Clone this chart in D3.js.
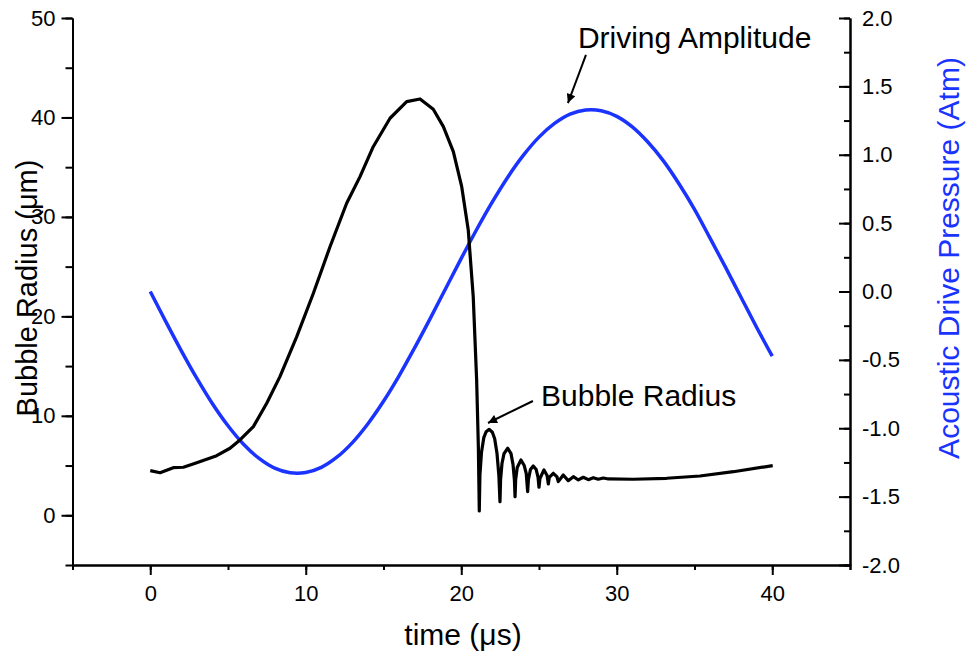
<!DOCTYPE html>
<html>
<head>
<meta charset="utf-8">
<script src="https://cdn.jsdelivr.net/npm/d3@7"></script>
<style>
	body { margin: 0; background: #fff; }
	svg text { font-family: Arial, "Liberation Sans", sans-serif; }
</style>
</head>
<body>
<div id="chart"></div>
<script>
// bubble radius (um) vs time (us)
var bubbleT = [0, 0.63, 1.48, 2.13, 2.99, 4.27, 5.13, 5.77, 6.63, 7.49, 8.34, 9.42, 10.49, 11.56, 12.63, 13.49, 14.34, 15.42, 16.49, 17.35, 18.2, 18.85, 19.49, 20.03, 20.45, 20.77, 20.99, 21.1, 21.16,
	21.2, 21.3, 21.45, 21.6, 21.8, 22.0, 22.15, 22.3, 22.42, 22.49,
	22.53, 22.62, 22.75, 22.99, 23.2, 23.33, 23.42, 23.46,
	23.5, 23.6, 23.84, 24.05, 24.18, 24.27,
	24.32, 24.45, 24.63, 24.82, 24.94, 25.0,
	25.06, 25.32, 25.52, 25.6,
	25.66, 25.92, 26.16, 26.24,
	26.56, 26.88, 27.21, 27.53, 27.85, 28.17, 28.49, 28.81, 29.14, 29.46,
	31.06, 33.21, 35.35, 37.5, 40.03];
var bubbleR = [4.49, 4.28, 4.79, 4.83, 5.29, 5.99, 6.74, 7.57, 8.91, 11.26, 13.94, 17.96, 22.32, 27.0, 31.37, 34.05, 37.06, 39.92, 41.59, 41.86, 40.83, 39.08, 36.56, 33.04, 28.69, 21.98, 13.6, 6.9, 0.43,
	4.0, 6.3, 7.8, 8.4, 8.64, 8.35, 7.7, 6.2, 4.0, 1.37,
	3.6, 5.2, 6.2, 6.74, 6.2, 5.1, 3.5, 1.87,
	3.6, 4.8, 5.56, 5.0, 4.2, 2.37,
	3.6, 4.6, 4.96, 4.6, 3.8, 2.82,
	3.7, 4.56, 4.0, 3.15,
	3.8, 4.22, 3.85, 3.38,
	4.05, 3.48, 3.88, 3.55, 3.82, 3.58, 3.78, 3.62, 3.75, 3.65,
	3.62, 3.72, 3.95, 4.38, 4.99];

// acoustic drive pressure (Atm) vs time (us)
var driveT = d3.range(0, 41);
var driveP = [0, -0.22, -0.434, -0.636, -0.821, -0.982, -1.117, -1.221, -1.292, -1.326, -1.324, -1.286, -1.212, -1.105, -0.967, -0.803, -0.617, -0.412, -0.198, 0.022, 0.242, 0.455, 0.655, 0.838, 0.997, 1.129, 1.229, 1.297, 1.327, 1.322, 1.281, 1.204, 1.093, 0.955, 0.788, 0.601, 0.39, 0.176, -0.044, -0.263, -0.473];

var xTicks = [0, 10, 20, 30, 40];
var yLeftTicks = [0, 10, 20, 30, 40, 50];
var yRightTicks = [-2.0, -1.5, -1.0, -0.5, 0.0, 0.5, 1.0, 1.5, 2.0];

var width = 967, height = 654;
var blue = "#1a33ff";

var svg = d3.select("#chart").append("svg")
	.attr("width", width)
	.attr("height", height);

var x = d3.scaleLinear().domain([-5, 45]).range([72.5, 850]);
var yL = d3.scaleLinear().domain([-5, 50]).range([565, 18]);
var yR = d3.scaleLinear().domain([-2, 2]).range([565, 18]);

// axes with minor ticks
function styleAxis(g) {
	g.select(".domain").attr("stroke-width", 2);
	g.selectAll(".tick line").attr("stroke-width", 2);
	g.selectAll("text").attr("font-size", "22px").attr("fill", "#000");
}

svg.append("g")
	.attr("transform", `translate(0,${yL(-5)})`)
	.call(d3.axisBottom(x).tickValues(d3.range(-5, 46, 5)).tickSize(5).tickFormat(""))
	.call(styleAxis);
svg.append("g")
	.attr("transform", `translate(0,${yL(-5)})`)
	.call(d3.axisBottom(x).tickValues(xTicks).tickSize(10).tickPadding(10).tickSizeOuter(0))
	.call(styleAxis);

svg.append("g")
	.attr("transform", `translate(${x(-5)},0)`)
	.call(d3.axisLeft(yL).tickValues(d3.range(-5, 51, 5)).tickSize(7).tickFormat("").tickSizeOuter(0))
	.call(styleAxis);
svg.append("g")
	.attr("transform", `translate(${x(-5)},0)`)
	.call(d3.axisLeft(yL).tickValues(yLeftTicks).tickSize(11).tickPadding(6).tickSizeOuter(0))
	.call(styleAxis);

svg.append("g")
	.attr("transform", `translate(${x(45)},0)`)
	.call(d3.axisRight(yR).tickValues(d3.range(-2, 2.01, 0.25)).tickSize(-6).tickFormat("").tickSizeOuter(0))
	.call(styleAxis);
svg.append("g")
	.attr("transform", `translate(${x(45)},0)`)
	.call(d3.axisRight(yR).tickValues(yRightTicks).tickSize(-11).tickPadding(12).tickSizeOuter(0))
	.call(styleAxis)
	.call(g => g.selectAll("text").text(d => d3.format(".1f")(d).replace("−", "-")));

// lines
var driveLine = d3.line()
	.x((d, i) => x(driveT[i]))
	.y(d => yR(d))
	.curve(d3.curveCatmullRom);
svg.append("path")
	.datum(driveP)
	.attr("d", driveLine)
	.attr("fill", "none")
	.attr("stroke", blue)
	.attr("stroke-width", 3.5);

var bubbleLine = d3.line()
	.x((d, i) => x(bubbleT[i]))
	.y(d => yL(d));
svg.append("path")
	.datum(bubbleR)
	.attr("d", bubbleLine)
	.attr("fill", "none")
	.attr("stroke", "#000")
	.attr("stroke-width", 3.2)
	.attr("stroke-linejoin", "round");

// axis titles
svg.append("text")
	.attr("text-anchor", "middle")
	.attr("x", 463)
	.attr("y", 645)
	.attr("font-size", "30px")
	.text("time (μs)");
svg.append("text")
	.attr("text-anchor", "middle")
	.attr("transform", "translate(37,288) rotate(-90)")
	.attr("font-size", "29px")
	.text("Bubble Radius (μm)");
svg.append("text")
	.attr("text-anchor", "middle")
	.attr("transform", "translate(959,258) rotate(-90)")
	.attr("font-size", "30px")
	.attr("fill", blue)
	.text("Acoustic Drive Pressure (Atm)");

// annotations
svg.append("defs").append("marker")
	.attr("id", "arrow")
	.attr("viewBox", "0 0 10 10")
	.attr("refX", 10)
	.attr("refY", 5)
	.attr("markerWidth", 14)
	.attr("markerHeight", 9)
	.attr("markerUnits", "userSpaceOnUse")
	.attr("orient", "auto")
	.append("path")
	.attr("d", "M0,0L10,5L0,10Z")
	.attr("fill", "#000");

svg.append("text")
	.attr("x", x(27.5))
	.attr("y", yR(1.78))
	.attr("font-size", "30px")
	.text("Driving Amplitude");
svg.append("line")
	.attr("x1", x(28.02)).attr("y1", yR(1.73))
	.attr("x2", x(26.86)).attr("y2", yR(1.378))
	.attr("stroke", "#000")
	.attr("stroke-width", 2)
	.attr("marker-end", "url(#arrow)");

svg.append("text")
	.attr("x", x(25.13))
	.attr("y", yL(10.99))
	.attr("font-size", "30px")
	.text("Bubble Radius");
svg.append("line")
	.attr("x1", x(24.61)).attr("y1", yL(11.49))
	.attr("x2", x(21.72)).attr("y2", yL(9.28))
	.attr("stroke", "#000")
	.attr("stroke-width", 2)
	.attr("marker-end", "url(#arrow)");
</script>
</body>
</html>
